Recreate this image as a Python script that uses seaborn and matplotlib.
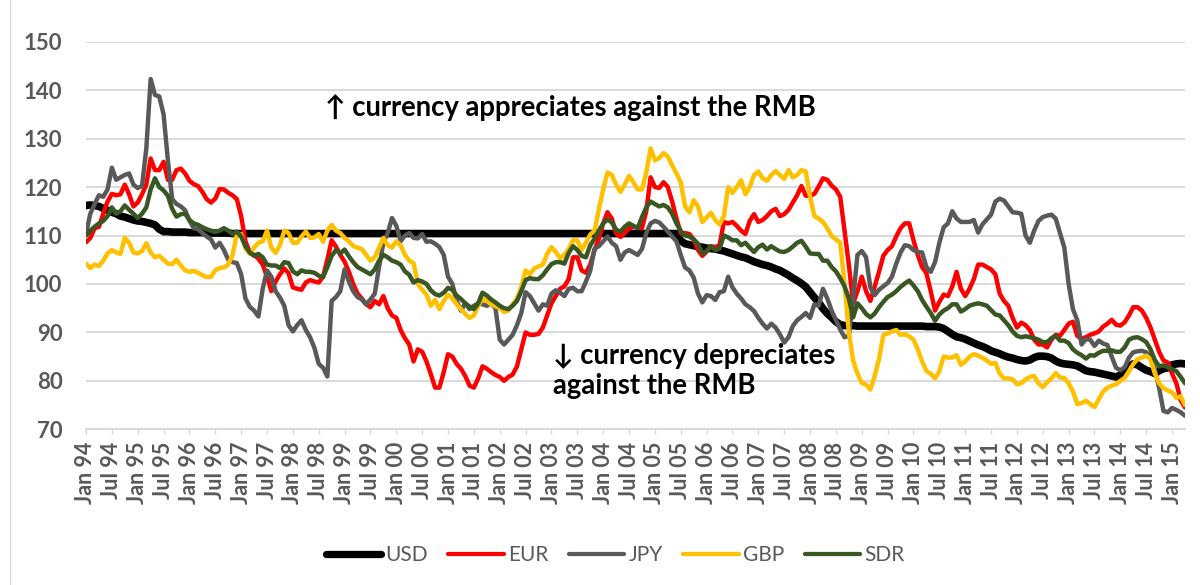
import numpy as np
import pandas as pd
import matplotlib
matplotlib.use("Agg")
import matplotlib.pyplot as plt
import seaborn as sns
from matplotlib.lines import Line2D

series_names = ["USD", "EUR", "JPY", "GBP", "SDR"]

usd = [116.2, 116.3, 116.2, 116.0, 115.6, 115.2, 114.8, 114.5, 114.0, 113.8, 113.5, 113.2,
       113.0, 112.9, 112.7, 112.5, 112.2, 111.3, 110.8, 110.8, 110.7, 110.7, 110.7, 110.7,
       110.6, 110.6, 110.6, 110.6, 110.5, 110.5, 110.5, 110.5, 110.5, 110.5, 110.4, 110.4,
       110.4, 110.4, 110.4, 110.4, 110.4, 110.4, 110.4, 110.4, 110.4, 110.4, 110.4, 110.4,
       110.4, 110.4, 110.4, 110.4, 110.4, 110.4, 110.4, 110.4, 110.4, 110.4, 110.4, 110.4,
       110.4, 110.4, 110.4, 110.4, 110.4, 110.4, 110.4, 110.4, 110.4, 110.4, 110.4, 110.4,
       110.4, 110.4, 110.4, 110.4, 110.4, 110.4, 110.4, 110.4, 110.4, 110.4, 110.4, 110.4,
       110.4, 110.4, 110.4, 110.4, 110.4, 110.4, 110.4, 110.4, 110.4, 110.4, 110.4, 110.4,
       110.4, 110.4, 110.4, 110.4, 110.4, 110.4, 110.4, 110.4, 110.4, 110.4, 110.4, 110.4,
       110.4, 110.4, 110.4, 110.4, 110.4, 110.4, 110.4, 110.4, 110.4, 110.4, 110.4, 110.4,
       110.4, 110.4, 110.4, 110.4, 110.4, 110.4, 110.4, 110.4, 110.4, 110.4, 110.4, 110.4,
       110.4, 110.4, 110.4, 110.4, 110.4, 110.4, 108.9, 108.3, 108.1, 107.9, 107.7, 107.6,
       107.4, 107.3, 107.2, 107.0, 106.8, 106.5, 106.2, 105.9, 105.6, 105.4, 105.0, 104.6,
       104.3, 104.0, 103.8, 103.5, 103.1, 102.8, 102.3, 101.8, 101.2, 100.7, 100.1, 99.4,
       98.3, 97.2, 96.2, 94.9, 93.9, 93.1, 92.2, 91.6, 91.4, 91.4, 91.4, 91.3,
       91.3, 91.3, 91.3, 91.3, 91.3, 91.3, 91.3, 91.3, 91.3, 91.3, 91.3, 91.3,
       91.3, 91.3, 91.3, 91.2, 91.2, 91.2, 91.1, 90.8, 90.2, 89.6, 89.1, 88.9,
       88.6, 88.2, 87.8, 87.4, 87.1, 86.7, 86.2, 85.9, 85.6, 85.2, 84.9, 84.7,
       84.4, 84.2, 84.1, 84.3, 84.8, 85.1, 85.1, 85.0, 84.7, 84.1, 83.7, 83.5,
       83.4, 83.3, 83.1, 82.6, 82.1, 81.9, 81.8, 81.6, 81.4, 81.2, 81.0, 80.8,
       81.2, 82.2, 83.0, 83.5, 83.3, 82.7, 82.2, 81.9, 81.5, 82.1, 82.5, 82.7,
       83.3, 83.5, 83.6, 83.5]

eur = [108.6, 109.5, 111.5, 111.8, 114.5, 117.0, 118.6, 118.3, 118.5, 120.5, 118.5, 116.0,
       116.8, 118.5, 120.5, 125.9, 123.5, 123.5, 125.2, 121.5, 121.5, 123.5, 123.8, 122.8,
       121.3, 120.6, 120.2, 119.0, 117.5, 116.8, 117.6, 119.6, 119.5, 118.8, 118.3, 117.5,
       114.0, 108.8, 106.5, 106.0, 105.2, 104.0, 101.5, 98.5, 100.5, 102.0, 103.2, 102.2,
       99.3, 99.0, 98.8, 100.3, 100.8, 100.5, 100.3, 101.5, 105.0, 109.0, 107.7, 106.0,
       104.6, 102.5, 100.0, 98.0, 97.0, 95.8, 95.2, 96.5, 95.8, 97.5, 95.0, 93.5,
       93.0, 90.5, 88.8, 87.5, 84.0, 86.5, 86.0, 84.0, 81.4, 78.6, 78.6, 81.8,
       85.5, 85.0, 83.5, 82.5, 81.0, 79.0, 78.6, 80.5, 83.0, 82.5, 81.8, 81.2,
       80.8, 80.0, 80.8, 81.3, 83.0, 86.5, 90.0, 89.5, 89.5, 89.7, 91.0, 93.5,
       96.0, 97.5, 99.0, 99.5, 101.0, 105.5, 105.5, 102.8, 102.3, 104.0, 107.0, 109.3,
       112.5, 114.8, 113.5, 110.5, 109.7, 110.5, 111.5, 111.8, 111.7, 111.5, 115.0, 122.0,
       120.0, 119.8, 121.0, 120.0, 117.0, 113.5, 110.5, 110.5, 110.3, 109.2, 107.0, 105.8,
       106.7, 107.8, 107.6, 108.0, 112.8, 112.5, 112.8, 112.0, 111.0, 110.3, 113.0, 114.4,
       112.8, 113.2, 114.0, 115.0, 115.5, 114.0, 114.4, 115.3, 116.8, 118.3, 120.2, 118.2,
       118.2, 118.6, 120.1, 121.8, 121.5, 120.3, 119.5, 118.0, 111.0, 104.0, 96.0, 98.5,
       101.5, 98.5, 96.5, 99.5, 102.5, 105.8, 107.0, 107.8, 109.8, 111.5, 112.5, 112.5,
       109.0, 106.0, 103.5, 102.2, 98.5, 94.5, 96.3, 97.8, 97.5, 99.5, 102.5, 99.0,
       97.5, 99.0, 101.0, 104.0, 104.0, 103.5, 103.0, 102.0, 98.0, 96.5, 95.5, 93.0,
       91.0, 92.0, 91.5, 90.5, 88.5, 87.5, 87.5, 86.9, 88.5, 89.5, 89.3, 90.5,
       91.8, 92.2, 89.3, 88.7, 89.0, 89.5, 89.8, 90.2, 91.2, 91.8, 92.6, 91.6,
       91.4, 92.1, 93.5, 95.2, 95.2, 94.5, 93.0, 91.0, 88.5, 86.0, 84.2, 83.8,
       81.5, 79.5, 76.0, 74.5]

jpy = [110.3, 114.5, 116.5, 118.3, 118.0, 119.5, 124.0, 121.5, 122.0, 122.5, 122.8, 120.5,
       119.8, 120.2, 128.0, 142.3, 139.0, 138.7, 135.0, 125.5, 117.5, 116.5, 116.0, 115.2,
       113.1, 111.5, 111.3, 110.5, 109.8, 109.2, 107.5, 108.5, 107.0, 105.0, 104.5, 104.3,
       102.0, 97.0, 95.3, 94.5, 93.3, 99.0, 102.8, 101.5, 98.5, 97.2, 95.5, 91.5,
       90.2, 91.5, 92.5, 90.5, 89.0, 86.8, 83.5, 82.7, 80.9, 96.5, 97.3, 98.5,
       103.0, 100.5, 98.5, 97.3, 96.8, 95.8, 96.8, 98.0, 103.5, 108.5, 110.5, 113.6,
       112.0, 108.8, 110.0, 110.5, 109.5, 109.4, 110.3, 108.7, 108.8, 108.3, 107.6, 106.0,
       101.5, 100.0, 96.5, 94.5, 96.0, 94.8, 95.5, 96.0, 95.8, 95.5, 96.0, 95.0,
       88.5, 87.5, 88.5, 89.5, 91.5, 94.0, 98.3, 97.5, 96.0, 94.5, 95.8, 95.5,
       98.0, 98.7, 98.2, 97.5, 99.0, 99.2, 98.5, 98.5, 100.5, 102.7, 107.3, 107.8,
       108.8, 109.8, 108.5, 107.8, 105.0, 106.5, 107.0, 106.5, 106.0, 107.2, 110.5, 112.5,
       113.0, 112.7, 111.8, 110.8, 109.8, 108.8, 106.0, 103.4, 102.8, 101.3, 98.0, 96.2,
       97.7, 97.5, 96.7, 98.3, 98.5, 101.5, 99.3, 98.0, 97.0, 95.8, 95.2, 94.4,
       93.0, 91.8, 90.8, 91.8, 91.0, 89.6, 87.9, 89.0, 91.3, 92.5, 93.2, 94.0,
       93.0, 95.8, 95.5, 99.0, 97.0, 94.5, 92.5, 90.6, 89.0, 89.3, 97.0, 106.0,
       106.8, 105.5, 99.3, 97.7, 98.8, 99.5, 100.2, 101.5, 104.2, 106.5, 108.0, 107.8,
       107.0, 106.6, 106.5, 103.5, 102.5, 104.5, 108.5, 111.7, 112.5, 115.0, 113.5, 112.8,
       112.8, 112.8, 113.2, 110.6, 112.3, 113.3, 114.3, 117.0, 117.6, 117.2, 116.0, 114.8,
       114.7, 114.5, 110.0, 108.5, 111.0, 113.0, 113.8, 114.1, 114.3, 113.5, 110.5, 107.5,
       100.0, 94.8, 92.5, 87.5, 88.6, 88.5, 87.2, 88.3, 87.7, 87.4, 85.0, 82.7,
       82.2, 82.8, 84.8, 85.9, 86.1, 86.2, 85.9, 84.9, 82.5, 78.5, 73.8, 73.5,
       74.4, 74.0, 73.5, 72.8]

gbp = [104.2, 103.3, 104.0, 103.7, 104.8, 106.3, 107.0, 106.5, 106.2, 109.5, 108.5, 106.5,
       106.3, 106.8, 108.4, 106.5, 105.5, 105.8, 105.0, 104.2, 104.1, 105.0, 103.8, 102.8,
       102.5, 102.7, 102.3, 101.8, 101.4, 101.5, 102.8, 103.3, 103.4, 104.0, 106.0, 110.3,
       110.3, 107.3, 106.2, 107.5, 108.5, 108.8, 111.0, 107.5, 106.4, 108.0, 111.0, 110.5,
       108.5, 108.5, 109.8, 110.8, 109.5, 109.6, 110.3, 108.7, 111.0, 112.2, 111.0, 110.5,
       109.5, 108.8, 107.8, 107.5, 107.2, 106.0, 104.8, 105.5, 107.5, 109.5, 108.0, 107.5,
       108.8, 108.0, 106.0, 104.8, 104.3, 100.0, 98.8, 97.8, 95.5, 96.7, 94.8, 96.5,
       97.8, 97.0, 95.8, 94.8, 93.8, 93.0, 93.5, 95.5, 97.0, 96.5, 95.8, 95.4,
       95.0, 94.2, 94.5, 95.8, 97.0, 99.4, 102.8, 102.0, 103.2, 103.6, 104.0, 106.2,
       107.6, 106.6, 105.3, 106.0, 107.2, 109.0, 109.0, 107.0, 108.5, 110.2, 111.0, 115.4,
       119.5, 123.0, 122.5, 120.5, 119.0, 120.5, 122.3, 121.0, 119.5, 119.5, 123.0, 128.0,
       125.5, 126.0, 127.0, 126.3, 124.5, 122.8, 121.0, 116.0, 114.8, 117.3, 116.0, 112.8,
       113.7, 114.7, 113.2, 112.3, 114.0, 120.0, 118.8, 120.0, 121.4, 118.5, 120.0, 122.5,
       123.2, 121.8, 121.3, 122.5, 123.3, 122.5, 121.7, 123.5, 122.0, 122.5, 123.5, 123.2,
       118.0, 114.0, 113.5, 112.8, 111.5, 109.9, 109.2, 108.5, 100.0, 90.0, 84.2, 81.5,
       79.6, 79.2, 78.2, 81.0, 84.5, 89.4, 89.8, 90.2, 90.5, 89.5, 89.6, 89.2,
       88.5, 86.5, 84.0, 82.0, 81.5, 80.5, 82.0, 85.0, 84.8, 84.8, 85.3, 83.3,
       84.0, 85.0, 85.5, 85.2, 84.8, 84.2, 83.5, 83.7, 81.5, 80.5, 80.5, 80.3,
       79.3, 79.5, 80.3, 80.8, 81.0, 79.5, 78.7, 79.7, 80.5, 81.6, 80.7, 80.6,
       79.5, 77.8, 75.2, 75.4, 75.9, 75.2, 74.6, 76.2, 77.8, 78.6, 79.0, 79.3,
       80.0, 80.6, 82.0, 83.5, 84.5, 84.8, 85.2, 84.5, 81.5, 79.5, 78.5, 78.0,
       77.6, 76.5, 76.8, 75.0]

sdr = [110.0, 111.0, 111.8, 112.5, 113.0, 114.0, 115.8, 114.5, 115.0, 116.2, 115.3, 114.5,
       113.6, 114.5, 115.8, 119.5, 121.8, 120.0, 119.3, 118.2, 115.5, 113.9, 114.4, 114.5,
       113.2, 112.5, 112.2, 111.7, 111.3, 111.0, 110.7, 111.0, 111.5, 111.0, 110.3, 110.8,
       109.8, 107.8, 106.5, 105.8, 106.2, 105.5, 104.0, 103.8, 103.8, 103.3, 104.5, 104.3,
       102.6, 102.0, 102.8, 102.5, 102.5, 102.3, 101.7, 101.4, 103.5, 105.8, 107.0, 106.3,
       107.1, 105.7, 104.5, 103.5, 103.0, 102.5, 102.0, 103.0, 104.8, 106.0, 105.5, 104.8,
       104.5, 104.0, 102.6, 101.9, 100.3, 100.8, 100.5, 100.0, 98.7, 97.9, 97.6, 98.2,
       99.2, 98.8, 97.6, 96.9, 96.0, 95.3, 94.8, 96.0, 98.2, 97.6, 96.8, 96.2,
       95.5, 95.0, 94.8, 95.5, 96.5, 98.5, 100.8, 101.2, 101.0, 101.0, 101.8, 103.0,
       104.1, 104.5, 104.5, 104.2, 106.4, 107.8, 107.0, 105.8, 105.5, 108.0, 109.3, 111.0,
       112.5, 113.3, 112.7, 111.2, 110.8, 111.8, 112.5, 112.0, 111.5, 113.8, 115.8, 117.0,
       116.5, 116.0, 116.3, 115.8, 114.5, 112.5, 110.9, 110.0, 109.8, 109.2, 108.3, 106.3,
       106.8, 107.8, 107.0, 107.3, 110.0, 109.6, 109.0, 109.0, 108.0, 108.5, 107.5, 106.6,
       107.6, 108.1, 107.1, 107.8, 107.2, 106.7, 106.6, 107.0, 107.7, 108.5, 108.9, 107.7,
       106.3, 106.2, 106.2, 104.8, 104.8, 103.5, 102.6, 101.2, 99.5, 97.0, 93.1, 96.0,
       95.0, 93.8, 93.1, 93.9, 95.2, 96.3, 97.3, 97.8, 98.5, 99.4, 100.1, 100.7,
       99.7, 98.5, 96.7, 95.3, 94.0, 92.4, 93.7, 94.5, 95.0, 95.8, 95.8, 94.3,
       94.8, 95.5, 95.8, 96.0, 95.8, 95.5, 94.6, 93.7, 93.5, 92.5, 91.5, 90.2,
       89.3, 89.0, 89.2, 89.0, 88.8, 88.5, 88.0, 88.0, 88.8, 89.3, 88.3, 88.3,
       87.8, 86.5, 85.8, 85.3, 84.6, 85.3, 85.2, 85.8, 86.2, 86.2, 86.3, 86.0,
       86.0, 86.9, 88.5, 88.9, 89.0, 88.6, 88.0, 86.5, 84.3, 83.0, 83.2, 82.8,
       82.4, 82.0, 80.8, 79.5]

tick_labels = ["Jan 94", "Jul 94", "Jan 95", "Jul 95", "Jan 96", "Jul 96", "Jan 97", "Jul 97",
               "Jan 98", "Jul 98", "Jan 99", "Jul 99", "Jan 00", "Jul 00", "Jan 01", "Jul 01",
               "Jan 02", "Jul 02", "Jan 03", "Jul 03", "Jan 04", "Jul 04", "Jan 05", "Jul 05",
               "Jan 06", "Jul 06", "Jan 07", "Jul 07", "Jan 08", "Jul 08", "Jan 09", "Jul 09",
               "Jan 10", "Jul 10", "Jan 11", "Jul 11", "Jan 12", "Jul 12", "Jan 13", "Jul 13",
               "Jan 14", "Jul 14", "Jan 15"]

y_ticks = [70, 80, 90, 100, 110, 120, 130, 140, 150]

text_up = "\u2191 currency appreciates against the RMB"
text_down = "\u2193 currency depreciates\nagainst the RMB"

colors = {"USD": "#000000", "EUR": "#FF0000", "JPY": "#595959", "GBP": "#FFC000", "SDR": "#385723"}
widths = {"USD": 5.5, "EUR": 3.2, "JPY": 3.2, "GBP": 3.2, "SDR": 3.2}

sns.set_theme(style="white")
plt.rcParams['font.family'] = ['Lato', 'DejaVu Sans']

W, H = 1200, 585
fig = plt.figure(figsize=(W / 100, H / 100), dpi=100)
left, right, top, bottom = 86, 1185, 41.7, 429.3
ax = fig.add_axes([left / W, 1 - bottom / H, (right - left) / W, (bottom - top) / H])

data = {"USD": usd, "EUR": eur, "JPY": jpy, "GBP": gbp, "SDR": sdr}
handles = []
for name in series_names:
    vals = data[name]
    df = pd.DataFrame({"month": np.arange(len(vals)), "value": vals})
    sns.lineplot(data=df, x="month", y="value", ax=ax, color=colors[name],
                 linewidth=widths[name], legend=False, solid_joinstyle="round")
    handles.append(Line2D([0], [0], color=colors[name], lw=widths[name] * 0.95,
                          solid_capstyle="round"))

n = len(usd)
ax.set_xlim(0, n - 1)
ax.set_ylim(70, 150)
ax.set_xlabel("")
ax.set_ylabel("")
ax.set_yticks(y_ticks)
ax.set_yticklabels([str(v) for v in y_ticks], fontsize=16, fontweight="bold", color="#595959")
ax.set_xticks(np.arange(0, 6 * len(tick_labels), 6))
ax.set_xticklabels(tick_labels, rotation=90, fontsize=15.5, fontweight="bold", color="#595959")
ax.tick_params(axis="y", length=0, pad=17)
ax.tick_params(axis="x", length=3.8, width=1.0, color="#d9d9d9", pad=5, direction="out", bottom=True)
ax.grid(False)
ax.yaxis.grid(True, color="#d9d9d9", linewidth=1.4)
ax.set_axisbelow(True)
for s in ["left", "right", "top"]:
    ax.spines[s].set_visible(False)
ax.spines["bottom"].set_color("#d9d9d9")
ax.spines["bottom"].set_linewidth(1.4)

fig.text(325 / W, 1 - 108 / H, text_up, ha="left", va="center",
         fontsize=19.8, fontweight="bold", color="black")
fig.text(553 / W, 1 - 371 / H, text_down, ha="left", va="center",
         fontsize=19.8, fontweight="bold", color="black", linespacing=1.2)

leg = fig.legend(handles, series_names, loc="center", bbox_to_anchor=(615 / W, 1 - 555 / H),
                 ncol=5, frameon=False, fontsize=15, handlelength=2.65,
                 handletextpad=0.2, columnspacing=1.0)
for t in leg.get_texts():
    t.set_color("#595959")

fig.add_artist(Line2D([10 / W, 10 / W], [0, 1], transform=fig.transFigure,
                      color="#d9d9d9", lw=1.0))

fig.savefig("out.png", dpi=100)
